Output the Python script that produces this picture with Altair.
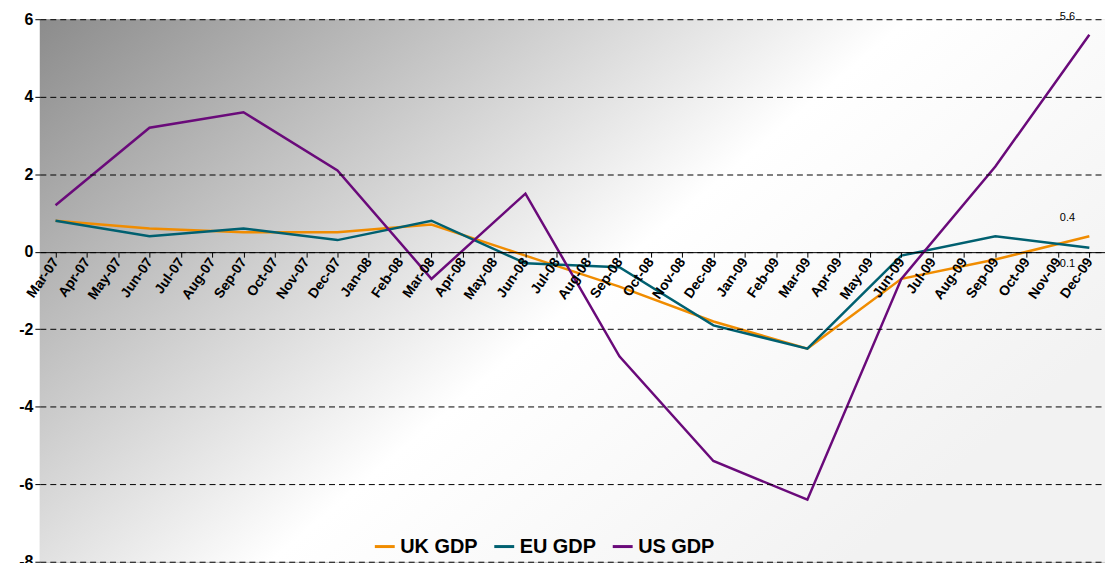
import altair as alt
import pandas as pd

months = ["Mar-07", "Apr-07", "May-07", "Jun-07", "Jul-07", "Aug-07", "Sep-07", "Oct-07",
          "Nov-07", "Dec-07", "Jan-08", "Feb-08", "Mar-08", "Apr-08", "May-08", "Jun-08",
          "Jul-08", "Aug-08", "Sep-08", "Oct-08", "Nov-08", "Dec-08", "Jan-09", "Feb-09",
          "Mar-09", "Apr-09", "May-09", "Jun-09", "Jul-09", "Aug-09", "Sep-09", "Oct-09",
          "Nov-09", "Dec-09"]
quarters = ["Mar-07", "Jun-07", "Sep-07", "Dec-07", "Mar-08", "Jun-08",
            "Sep-08", "Dec-08", "Mar-09", "Jun-09", "Sep-09", "Dec-09"]
uk_gdp = [0.8, 0.6, 0.5, 0.5, 0.7, -0.1, -0.9, -1.8, -2.5, -0.7, -0.2, 0.4]
eu_gdp = [0.8, 0.4, 0.6, 0.3, 0.8, -0.3, -0.4, -1.9, -2.5, -0.1, 0.4, 0.1]
us_gdp = [1.2, 3.2, 3.6, 2.1, -0.7, 1.5, -2.7, -5.4, -6.4, -0.7, 2.2, 5.6]

rows = []
for name, vals in [("UK GDP", uk_gdp), ("EU GDP", eu_gdp), ("US GDP", us_gdp)]:
    for i, (q, v) in enumerate(zip(quarters, vals)):
        rows.append({"month": q, "idx": i, "value": v, "series": name})
df = pd.DataFrame(rows)

above_labels = pd.DataFrame({"month": ["Dec-09", "Dec-09"], "value": [5.6, 0.4],
                             "label": ["5.6", "0.4"]})
below_labels = pd.DataFrame({"month": ["Dec-09"], "value": [0.1], "label": ["0.1"]})

W, H = 1070, 545
xscale = alt.Scale(domain=months, paddingOuter=0.5)

x = alt.X("month:O", sort=months, scale=xscale,
          axis=alt.Axis(title=None, labelAngle=-55, labelAlign="right", labelBaseline="middle",
                        labelFontWeight="bold", labelFontSize=14, labelFont="Arial",
                        labelColor="black", offset=-311, ticks=True, tickColor="black",
                        domainColor="black", labelPadding=2, zindex=1))
y = alt.Y("value:Q", scale=alt.Scale(domain=[-8, 6], nice=False),
          axis=alt.Axis(title=None, values=list(range(-8, 7, 2)), grid=True, gridDash=[6, 4],
                        gridColor="black", gridWidth=1, labelFontWeight="bold", labelFontSize=16,
                        labelFont="Arial", labelColor="black", domain=False, tickColor="black",
                        labelExpr="toString(datum.value)", zindex=1))

bg = alt.Chart(pd.DataFrame({"a": [0]})).mark_rect(
    color=alt.Gradient(gradient="linear", x1=0, y1=0, x2=1, y2=0.6,
                       stops=[alt.GradientStop(offset=0, color="#8c8c8c"),
                              alt.GradientStop(offset=0.6, color="#ffffff"),
                              alt.GradientStop(offset=1, color="#f2f2f2")])
).encode(x=alt.value(0), x2=alt.value(W), y=alt.value(0), y2=alt.value(H))

lines = alt.Chart(df).mark_line(strokeWidth=2.5).encode(
    x=x, y=y,
    color=alt.Color("series:N", sort=["UK GDP", "EU GDP", "US GDP"],
                    scale=alt.Scale(domain=["UK GDP", "EU GDP", "US GDP"],
                                    range=["#f08c00", "#006070", "#6a0a7a"]),
                    legend=alt.Legend(title=None, orient="none", direction="horizontal",
                                      legendX=335, legendY=518, symbolType="stroke",
                                      symbolStrokeWidth=3, symbolSize=400,
                                      labelFontSize=20, labelFontWeight="bold",
                                      labelFont="Arial", labelColor="black")),
    order=alt.Order("idx:Q"),
)

texts_above = alt.Chart(above_labels).mark_text(fontSize=11, font="Arial", dx=-22, dy=-18).encode(
    x=alt.X("month:O", sort=months, scale=xscale), y="value:Q", text="label:N",
)
texts_below = alt.Chart(below_labels).mark_text(fontSize=11, font="Arial", dx=-22, dy=16).encode(
    x=alt.X("month:O", sort=months, scale=xscale), y="value:Q", text="label:N",
)

chart = alt.layer(bg, lines, texts_above, texts_below).properties(
    width=W, height=H, autosize="none",
    padding={"left": 32, "top": 10, "right": 0, "bottom": 0},
).configure_view(stroke="#bbbbbb")

chart.save("out.html", embed_options={"renderer": "svg", "actions": False})
